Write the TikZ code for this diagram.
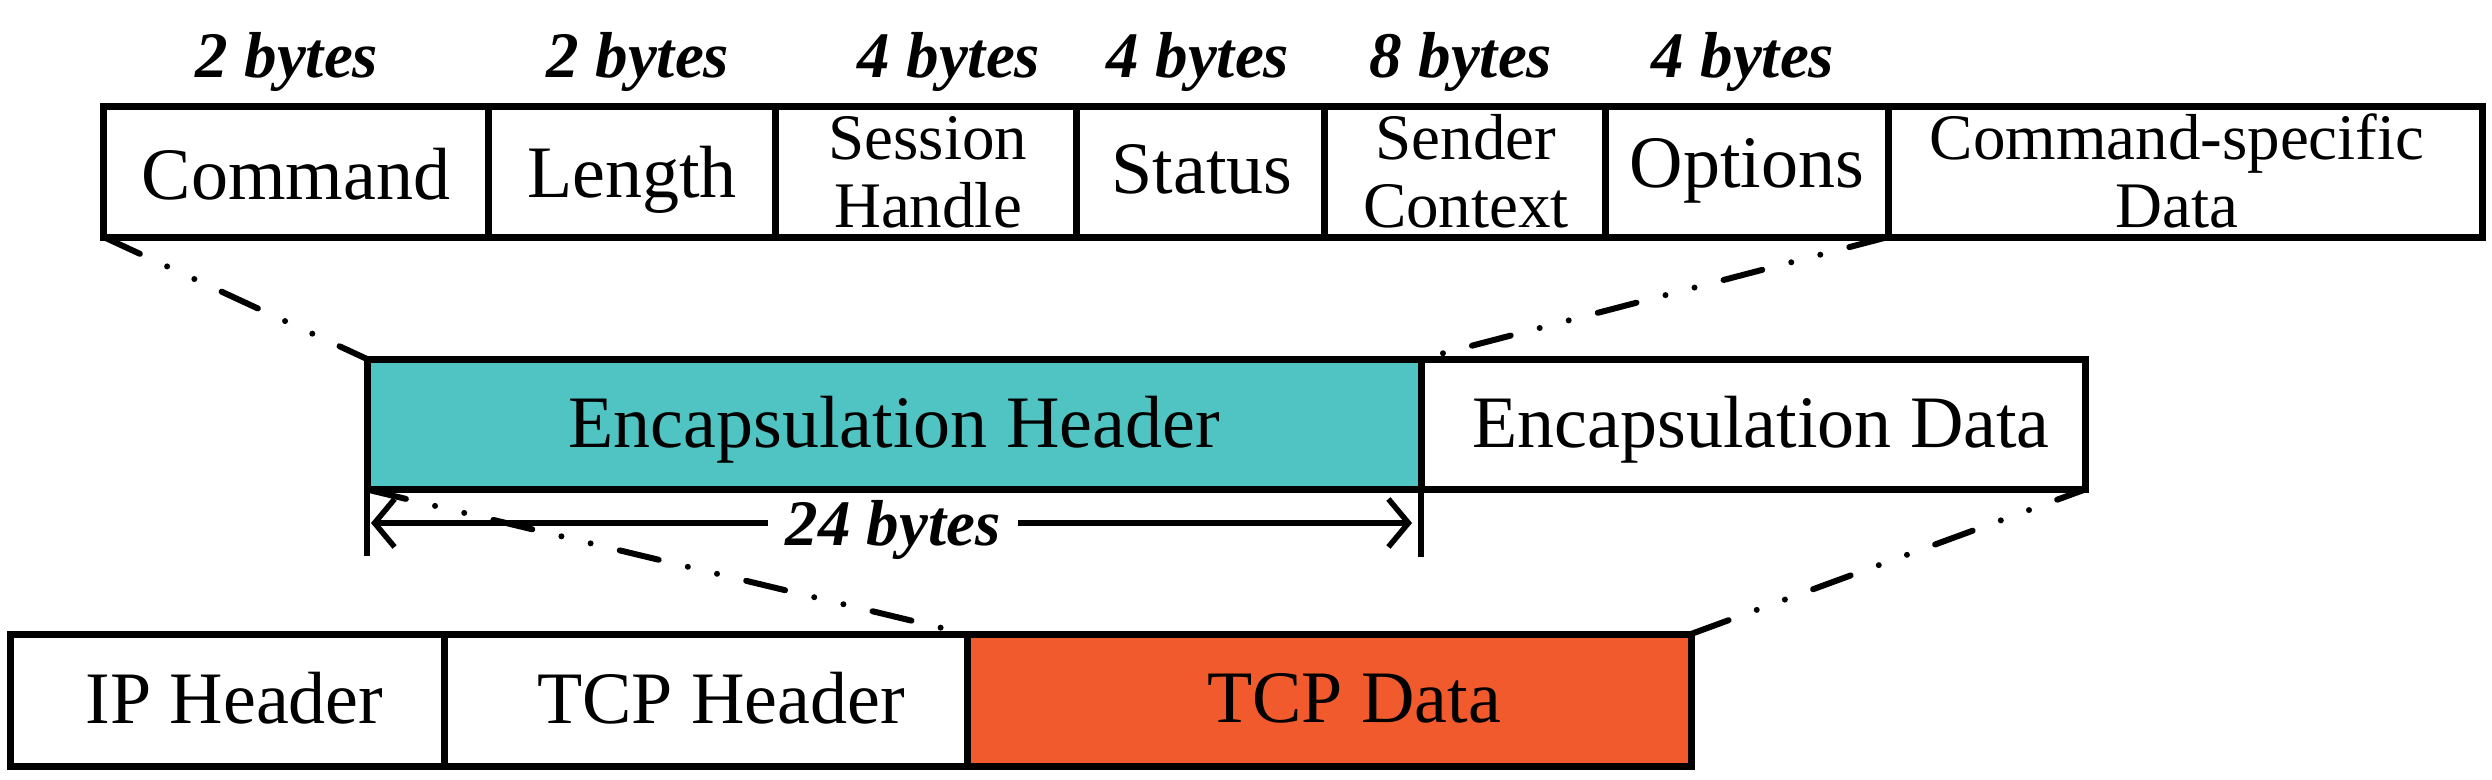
\documentclass[tikz,border=0pt]{standalone}
\usepackage{fontspec}
\setmainfont{Liberation Serif}
\usetikzlibrary{arrows.meta}
\definecolor{encteal}{HTML}{50C4C3}
\definecolor{tcporange}{HTML}{F05A2C}
\begin{document}
\begin{tikzpicture}[x=1pt,y=-1pt,
  cell/.style={draw, line width=7pt, rectangle, inner sep=0pt, outer sep=0pt},
  big/.style={font=\fontsize{74}{80}\selectfont, anchor=base, inner sep=0pt},
  two/.style={font=\fontsize{65}{68}\selectfont, align=center, anchor=base, inner sep=0pt},
  bytes/.style={font=\fontsize{65}{68}\selectfont\bfseries\itshape, anchor=base, inner sep=0pt},
  link/.style={line width=6pt, line cap=round, dash pattern=on 40pt off 30pt on 0pt off 30pt on 0pt off 30pt},
  dim/.style={line width=5.5pt}]
\useasboundingbox (0,0) rectangle (2492,779);

% connectors (drawn first, under the boxes)
\coordinate (cmdSW) at (103.6,237);
\coordinate (optSE) at (1888,237);
\coordinate (hSW) at (367,489.5);
\coordinate (hNW) at (367,359);
\coordinate (hNE) at (1421,359);
\coordinate (dSE) at (2085,489.5);
\coordinate (tNW) at (967,634);
\coordinate (tNE) at (1691,634);
\draw[link] (cmdSW) -- (hNW);
\draw[link] (optSE) -- (hNE);
\draw[link] (hSW) -- (tNW);
\draw[link] (tNE) -- (dSE);

% top row
\node[cell, minimum width=384.4pt, minimum height=130.5pt] (cmd) at (295.8,171.75) {};
\node[cell, minimum width=287pt, minimum height=130.5pt] (len) at (631.5,171.75) {};
\node[cell, minimum width=301pt, minimum height=130.5pt] (ses) at (925.5,171.75) {};
\node[cell, minimum width=248pt, minimum height=130.5pt] (sta) at (1200,171.75) {};
\node[cell, minimum width=281pt, minimum height=130.5pt] (snd) at (1464.5,171.75) {};
\node[cell, minimum width=283pt, minimum height=130.5pt] (opt) at (1746.5,171.75) {};
\node[cell, minimum width=594pt, minimum height=130.5pt] (csd) at (2185,171.75) {};

\node[big] (tcmd) at (296,199) {Command};
\node[big] (tlen) at (632,197) {Length};
\node[two] (tses) at (928,227) {Session\\Handle};
\node[big] (tsta) at (1202,193) {Status};
\node[two] (tsnd) at (1466,227) {Sender\\Context};
\node[big] (topt) at (1747,187) {Options};
\node[two] (tcsd) at (2177,227) {Command-specific\\Data};

\node[bytes] (b1) at (287,77) {2 bytes};
\node[bytes] (b2) at (638,77) {2 bytes};
\node[bytes] (b3) at (949,77) {4 bytes};
\node[bytes] (b4) at (1198,77) {4 bytes};
\node[bytes] (b5) at (1461,77) {8 bytes};
\node[bytes] (b6) at (1743,77) {4 bytes};

% middle row
\node[cell, fill=encteal, minimum width=1054pt, minimum height=130.5pt] (encH) at (894,424.25) {};
\node[cell, minimum width=664pt, minimum height=130.5pt] (encD) at (1753,424.25) {};
\node[big] (tencH) at (894,447) {Encapsulation Header};
\node[big] (tencD) at (1761,447) {Encapsulation Data};

% 24 bytes dimension
\coordinate (k1) at (367,556);
\coordinate (k2) at (1421,557);
\coordinate (a1) at (371,523);
\coordinate (a2) at (1412,523);
\draw[dim] (encH.south west) -- (k1);
\draw[dim] (encH.south east) -- (k2);
\draw[dim, {Straight Barb[length=20pt,width=48pt]}-{Straight Barb[length=20pt,width=48pt]}] (a1) -- (a2);
\node[bytes, fill=white, inner xsep=18pt] (l24) at (893,545) {24 bytes};

% bottom row
\node[cell, minimum width=434pt, minimum height=132pt] (ip) at (227,700) {};
\node[cell, minimum width=523pt, minimum height=132pt] (tcpH) at (705.5,700) {};
\node[cell, fill=tcporange, minimum width=724pt, minimum height=132pt] (tcpD) at (1329,700) {};
\node[big] (tip) at (234.5,723) {IP Header};
\node[big] (ttcpH) at (721,723) {TCP Header};
\node[big] (ttcpD) at (1354,722) {TCP Data};
\end{tikzpicture}
\end{document}
